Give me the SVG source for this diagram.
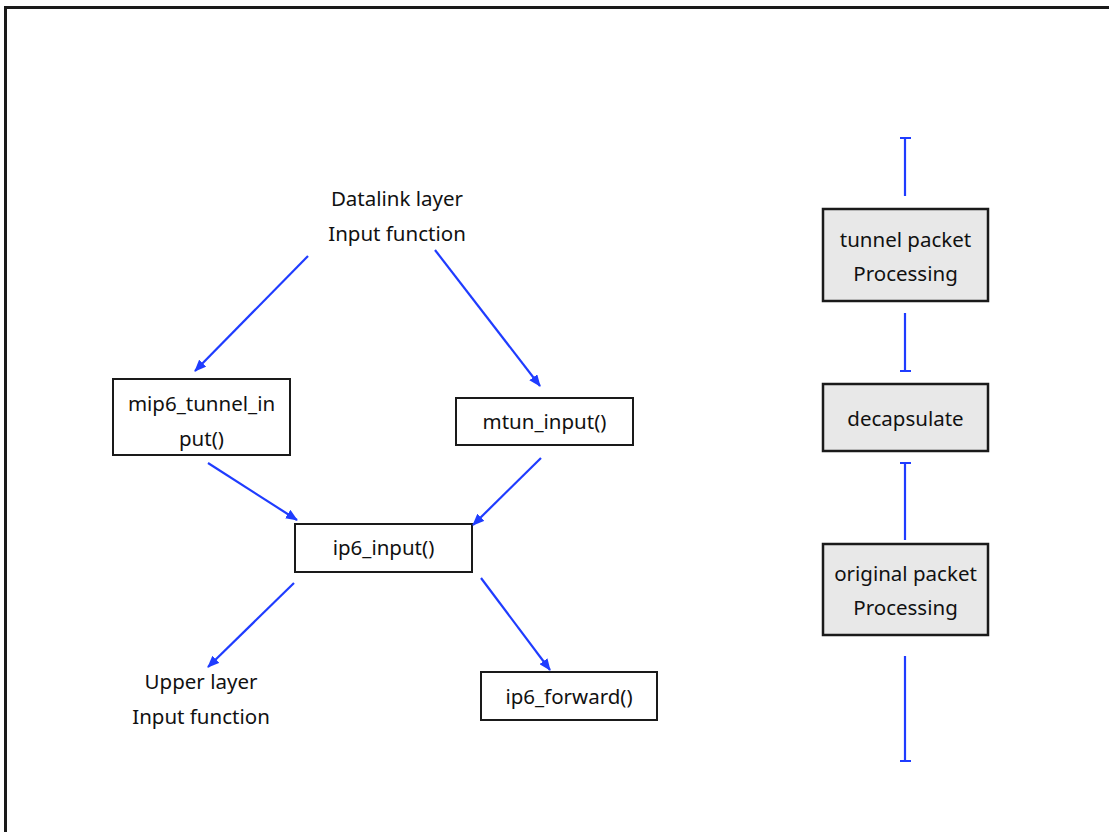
<svg xmlns="http://www.w3.org/2000/svg" width="1109" height="832" viewBox="0 0 1109 832">
  <style>
    .box { fill: #ffffff; stroke: #1a1a1a; stroke-width: 2; }
    .gbox { fill: #e8e8e8; stroke: #1a1a1a; stroke-width: 2.5; }
    .lbl { font-family: "Noto Sans", "DejaVu Sans", sans-serif; font-size: 20.5px; fill: #111111; text-anchor: middle; }
    .arr { stroke: #1f3cff; stroke-width: 2.2; fill: none; marker-end: url(#head); }
    .bar { stroke: #1f3cff; stroke-width: 2.2; fill: none; }
  </style>
  <defs>
    <marker id="head" viewBox="0 0 12 10" refX="11" refY="5" markerWidth="12" markerHeight="10" markerUnits="userSpaceOnUse" orient="auto">
      <path d="M0,0 L12,5 L0,10 z" fill="#1f3cff"/>
    </marker>
  </defs>

  <rect x="0" y="0" width="1109" height="832" fill="#ffffff"/>
  <!-- outer frame -->
  <path d="M5.5,832 V7.5 H1109" fill="none" stroke="#1a1a1a" stroke-width="3"/>

  <!-- free-standing labels -->
  <g id="datalink">
    <text class="lbl" x="397" y="206">Datalink layer</text>
    <text class="lbl" x="397" y="241">Input function</text>
  </g>
  <g id="upper">
    <text class="lbl" x="201" y="689">Upper layer</text>
    <text class="lbl" x="201" y="724">Input function</text>
  </g>

  <!-- function boxes -->
  <g id="mip6_tunnel_input">
    <rect class="box" x="113" y="379" width="177" height="76"/>
    <text class="lbl" x="201.5" y="411">mip6_tunnel_in</text>
    <text class="lbl" x="201.5" y="446">put()</text>
  </g>
  <g id="mtun_input">
    <rect class="box" x="456" y="398" width="177" height="47"/>
    <text class="lbl" x="544.5" y="429">mtun_input()</text>
  </g>
  <g id="ip6_input">
    <rect class="box" x="295" y="524" width="177" height="48"/>
    <text class="lbl" x="383.5" y="555">ip6_input()</text>
  </g>
  <g id="ip6_forward">
    <rect class="box" x="481" y="672" width="176" height="48"/>
    <text class="lbl" x="569" y="704">ip6_forward()</text>
  </g>

  <!-- processing stages -->
  <g id="tunnel_processing">
    <rect class="gbox" x="823" y="209" width="165" height="92"/>
    <text class="lbl" x="905.5" y="247">tunnel packet</text>
    <text class="lbl" x="905.5" y="281">Processing</text>
  </g>
  <g id="decapsulate">
    <rect class="gbox" x="823" y="384" width="165" height="67"/>
    <text class="lbl" x="905.5" y="426">decapsulate</text>
  </g>
  <g id="original_processing">
    <rect class="gbox" x="823" y="544" width="165" height="91"/>
    <text class="lbl" x="905.5" y="581">original packet</text>
    <text class="lbl" x="905.5" y="615">Processing</text>
  </g>

  <!-- connectors -->
  <g id="connectors">
    <line class="arr" x1="308" y1="256" x2="195" y2="371"/>
    <line class="arr" x1="435" y1="250" x2="540" y2="386"/>
    <line class="arr" x1="208" y1="463" x2="297" y2="520"/>
    <line class="arr" x1="541" y1="458" x2="473" y2="525"/>
    <line class="arr" x1="294" y1="583" x2="208" y2="667"/>
    <line class="arr" x1="481" y1="578" x2="550" y2="670"/>

    <path class="bar" d="M905,138 V196 M900,138 H911"/>
    <path class="bar" d="M905,313 V371 M900,371 H911"/>
    <path class="bar" d="M905,463 V540 M900,463 H911"/>
    <path class="bar" d="M905,656 V761 M900,761 H911"/>
  </g>
</svg>
